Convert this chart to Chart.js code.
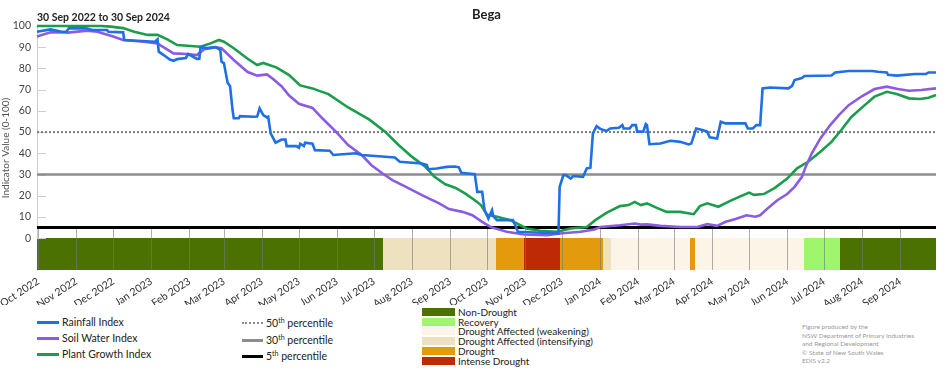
<!DOCTYPE html>
<html>
<head>
<meta charset="utf-8">
<title>Bega drought indicators</title>
<script src="https://cdn.jsdelivr.net/npm/chart.js@4.4.1/dist/chart.umd.min.js"></script>
<style>
  body { margin: 0; background: #fff; font-family: Lato, 'Noto Sans', sans-serif; color: #222; }
  #wrap { position: relative; width: 952px; height: 370px; overflow: hidden; }
  #chart { position: absolute; left: 0; top: 0; }
  .abs { position: absolute; white-space: nowrap; }
  .title { font-weight: bold; font-size: 13px; }
  .leg { font-size: 10.5px; line-height: 12px; }
  .leg sup { font-size: 7px; line-height: 0; vertical-align: 4px; }
  .sample { position: absolute; height: 0; }
  .swatch { position: absolute; width: 33px; height: 8px; }
  .credit { font-size: 6.5px; line-height: 8.5px; color: #999; }
</style>
</head>
<body>
<div id="wrap">
  <canvas id="chart" width="952" height="305"></canvas>
  <div class="abs title" style="left:0;width:973px;text-align:center;top:6px">Bega</div>
  <div class="abs title" style="left:37px;top:11px;font-size:10.5px">30 Sep 2022 to 30 Sep 2024</div>
  <div id="legend"></div>
</div>
<script>
// days counted from 30 Sep 2022
const tickLabels = ['Oct 2022', 'Nov 2022', 'Dec 2022', 'Jan 2023', 'Feb 2023', 'Mar 2023', 'Apr 2023',
  'May 2023', 'Jun 2023', 'Jul 2023', 'Aug 2023', 'Sep 2023', 'Oct 2023', 'Nov 2023', 'Dec 2023',
  'Jan 2024', 'Feb 2024', 'Mar 2024', 'Apr 2024', 'May 2024', 'Jun 2024', 'Jul 2024', 'Aug 2024', 'Sep 2024']
const yTicks = [0, 10, 20, 30, 40, 50, 60, 70, 80, 90, 100]

const rainDays = [0, 11, 20, 24, 26, 40, 45, 57, 58, 70, 71, 96, 98, 99, 103, 108, 111, 114, 121, 123, 127, 130, 132, 133,
  138, 145, 149, 150, 152, 155, 157, 159, 160, 164, 165, 176, 179, 181, 184, 187, 188, 190, 194, 199, 202, 203,
  211, 213, 214, 217, 218, 224, 226, 238, 241, 259, 264, 275, 291, 295, 313, 317, 318, 325, 333, 340, 343, 345,
  356, 358, 362, 363, 364, 367, 370, 371, 374, 387, 390, 391, 424, 425, 428, 430, 434, 436, 444, 447, 450, 452,
  455, 458, 463, 466, 473, 476, 477, 482, 484, 487, 488, 493, 495, 496, 498, 507, 515, 523, 530, 532, 536, 541,
  545, 547, 553, 556, 560, 576, 578, 582, 585, 588, 590, 596, 611, 614, 616, 622, 624, 646, 649, 660, 679, 684,
  691, 692, 699, 714, 723, 725, 731]
const rainfall = [97.3, 98.4, 97.3, 97.3, 99.0, 98.9, 98.1, 98.1, 97.3, 97.0, 93.4, 92.6, 93.7, 87.9, 86.3, 84.2, 83.6,
  84.4, 84.9, 86.8, 85.5, 84.5, 84.6, 90.1, 89.6, 90.1, 88.8, 83.2, 82.4, 73.3, 71.6, 60.4, 56.5, 56.5, 57.5,
  57.2, 57.3, 61.2, 58.0, 56.9, 57.2, 49.4, 45.0, 46.5, 46.5, 43.4, 43.4, 42.6, 44.5, 43.4, 45.0, 44.5, 41.5,
  41.2, 39.2, 40.0, 39.2, 38.7, 38.0, 36.0, 35.2, 34.5, 32.5, 32.8, 33.6, 33.8, 33.4, 30.8, 30.2, 21.8, 21.8,
  17.1, 13.2, 9.3, 13.2, 10.4, 8.5, 8.5, 4.6, 3.0, 2.2, 24.2, 29.7, 29.7, 28.1, 29.3, 28.9, 32.9, 33.2, 49.4,
  52.8, 51.5, 50.5, 51.7, 52.0, 53.3, 51.7, 51.7, 53.3, 53.3, 50.2, 50.2, 53.8, 53.3, 44.3, 44.6, 45.9, 45.4,
  44.2, 44.6, 51.7, 51.0, 50.2, 47.5, 47.0, 54.9, 54.1, 54.1, 51.7, 51.7, 53.3, 53.3, 70.6, 71.0, 70.6, 71.8,
  74.5, 75.5, 76.4, 76.7, 78.1, 78.8, 78.8, 78.4, 78.1, 77.0, 76.6, 77.4, 77.4, 78.1, 78.1]

const soilDays = [0, 11, 22, 25, 41, 49, 62, 70, 87, 98, 111, 122, 130, 136, 146, 150, 160, 171, 179, 187, 192, 199,
  205, 213, 224, 232, 243, 253, 264, 272, 281, 289, 300, 313, 327, 335, 346, 354, 362, 369, 382, 396, 415, 425,
  442, 453, 458, 474, 486, 491, 496, 507, 523, 537, 545, 553, 560, 568, 577, 584, 588, 595, 602, 610, 616, 622,
  625, 630, 637, 645, 652, 660, 671, 681, 691, 700, 709, 719, 731]
const soilWater = [95, 97, 97, 96.9, 97.8, 97.3, 95, 93.4, 92.6, 91.8, 87.1, 86.8, 86.3, 89, 90, 89.5, 84, 78.4, 76.6,
  77.2, 75, 71.5, 67.2, 63.3, 61.4, 56.5, 50.2, 43.9, 39.2, 34.4, 30.5, 27.4, 24.2, 20.3, 16.4, 13.7, 12.4, 10.8,
  7.7, 5.2, 3, 1.7, 1.4, 2.2, 3, 4.1, 5.3, 6.1, 6.9, 6.4, 6.5, 5.8, 5.3, 5.3, 6.6, 5.8, 7.7, 9, 10.8, 10.1, 10.8,
  14.5, 17.9, 20.8, 24.2, 28.9, 33.6, 40, 47, 53.3, 58, 62.7, 67, 70.3, 71.4, 70.3, 69.5, 69.8, 70.6]

const plantDays = [0, 52, 60, 70, 79, 90, 98, 106, 114, 125, 133, 141, 148, 152, 160, 171, 179, 184, 195, 205, 214,
  224, 230, 237, 253, 270, 283, 294, 305, 316, 323, 332, 340, 348, 356, 361, 366, 374, 385, 393, 398, 409, 423,
  434, 447, 454, 463, 474, 481, 486, 491, 496, 504, 512, 523, 534, 539, 545, 554, 562, 570, 579, 583, 591, 600,
  610, 618, 627, 637, 646, 654, 662, 673, 681, 691, 699, 709, 718, 725, 731]
const plantGrowth = [100, 100, 99.7, 99, 97.3, 95.8, 95.8, 93.7, 91, 90.6, 90.2, 91.8, 93.4, 92.6, 89.5, 84.7, 81.6,
  82.6, 80.4, 76.9, 72, 70.6, 69.3, 67.9, 61.6, 56, 50.2, 43.9, 38.3, 33.6, 29, 25.4, 23.8, 21.1, 17.9, 15.6, 11,
  10.1, 8.5, 6.1, 4.6, 3.5, 3, 4.6, 5.3, 8.5, 11.9, 15.1, 15.6, 17.1, 15.6, 16.4, 14.3, 12.4, 12.4, 11.3, 15.1,
  16.4, 14.8, 17.1, 19.2, 21.5, 20.4, 20.8, 23.7, 28.1, 32.9, 36, 40.7, 45.4, 51, 57, 62.7, 66.7, 69, 67.9, 65.9,
  65.6, 66.2, 67.5]

const percentileValues = [50, 30, 5]

const stripStart = [0, 281, 373, 396, 425, 460, 467, 531, 535, 624, 653]
const stripEnd = [281, 373, 396, 425, 460, 467, 531, 535, 624, 653, 731]
const stripClass = ['Non-Drought', 'Drought Affected (intensifying)', 'Drought', 'Intense Drought', 'Drought',
  'Drought Affected (intensifying)', 'Drought Affected (weakening)', 'Drought', 'Drought Affected (weakening)',
  'Recovery', 'Non-Drought']

const classColours = {
  'Non-Drought': '#4b7200',
  'Recovery': '#9ff56c',
  'Drought Affected (weakening)': '#fdf4e8',
  'Drought Affected (intensifying)': '#ede1c0',
  'Drought': '#e39a0c',
  'Intense Drought': '#bf2a06',
}
const seriesColours = ['#1f6fe5', '#8a5ce3', '#1b9d4c']
const FONT = 'Lato, "Noto Sans", sans-serif'

const monthDays = tickLabels.map((_, i) => {
  const d = new Date(Date.UTC(2022, 9 + i, 1))
  return Math.round((d - Date.UTC(2022, 8, 30)) / 86400000)
})
const toPoints = (days, vals) => days.map((d, i) => ({ x: d, y: vals[i] }))
const flat = v => [{ x: 0, y: v }, { x: 731, y: v }]

const stripPlugin = {
  id: 'strip',
  beforeDatasetsDraw(chart) {
    const { ctx, scales: { x, y }, chartArea } = chart
    const top = Math.round(y.getPixelForValue(0))
    const bottom = Math.round(y.getPixelForValue(-15))
    ctx.save()
    stripStart.forEach((s, i) => {
      const x0 = Math.round(x.getPixelForValue(s))
      const x1 = Math.round(x.getPixelForValue(stripEnd[i]))
      ctx.fillStyle = classColours[stripClass[i]]
      ctx.fillRect(x0, top, x1 - x0, bottom - top)
    })
    // month grid below the 5th percentile line
    ctx.strokeStyle = 'rgba(120,120,120,0.6)'
    ctx.lineWidth = 1
    const y5 = y.getPixelForValue(5)
    monthDays.forEach(d => {
      const px = Math.round(x.getPixelForValue(d)) + 0.5
      ctx.beginPath()
      ctx.moveTo(px, y5)
      ctx.lineTo(px, bottom)
      ctx.stroke()
    })
    // short inward ticks on the value axis
    ctx.strokeStyle = '#cfcfcf'
    yTicks.forEach(v => {
      const py = Math.round(y.getPixelForValue(v)) + 0.5
      ctx.beginPath()
      ctx.moveTo(chartArea.left, py)
      ctx.lineTo(chartArea.left + 9, py)
      ctx.stroke()
    })
    ctx.restore()
  },
}

const line = (label, days, vals, colour, order) => ({
  label, data: toPoints(days, vals), borderColor: colour, borderWidth: 2.6,
  pointRadius: 0, tension: 0, order, clip: 4,
})

new Chart(document.getElementById('chart'), {
  type: 'line',
  data: {
    datasets: [
      line('Rainfall Index', rainDays, rainfall, seriesColours[0], 1),
      line('Soil Water Index', soilDays, soilWater, seriesColours[1], 2),
      line('Plant Growth Index', plantDays, plantGrowth, seriesColours[2], 3),
      { label: '50th percentile', data: flat(percentileValues[0]), borderColor: '#7a7a7a', borderWidth: 2,
        borderDash: [2, 2], pointRadius: 0, order: 10 },
      { label: '30th percentile', data: flat(percentileValues[1]), borderColor: '#8c8c8c', borderWidth: 2.5,
        pointRadius: 0, order: 10 },
      { label: '5th percentile', data: flat(percentileValues[2]), borderColor: '#000', borderWidth: 3,
        pointRadius: 0, order: 10 },
    ],
  },
  options: {
    responsive: false,
    animation: false,
    layout: { padding: { top: 26, right: 16, left: 0, bottom: 0 }, autoPadding: false },
    plugins: { legend: { display: false }, tooltip: { enabled: false } },
    scales: {
      x: {
        type: 'linear', min: 0, max: 731,
        afterBuildTicks: s => { s.ticks = monthDays.map(v => ({ value: v })) },
        afterFit: s => { s.height = 35; s.paddingLeft = 0; s.paddingRight = 0 },
        grid: { display: false, drawTicks: false },
        border: { display: false },
        ticks: {
          autoSkip: false, maxRotation: 33, minRotation: 33, padding: 5, color: '#333',
          font: { size: 10.5, family: FONT },
          callback: (v, i) => tickLabels[i],
        },
      },
      y: {
        min: -15, max: 100,
        afterBuildTicks: s => { s.ticks = yTicks.map(v => ({ value: v })) },
        afterFit: s => { s.width = 37 },
        grid: { display: false, drawTicks: false },
        border: { display: true, color: '#cccccc', width: 1 },
        ticks: { padding: 6, color: '#444', font: { size: 10.5, family: FONT } },
        title: { display: true, text: 'Indicator Value (0-100)', padding: 0, color: '#555',
          font: { size: 10, family: FONT } },
      },
    },
  },
  plugins: [stripPlugin],
})

// legend below the chart
const legend = document.getElementById('legend')
const add = html => legend.insertAdjacentHTML('beforeend', html)
const seriesNames = ['Rainfall Index', 'Soil Water Index', 'Plant Growth Index']
const seriesRows = [322, 338, 354]
seriesNames.forEach((name, i) => {
  add(`<div class="sample" style="left:37px;width:22px;top:${seriesRows[i] - 1}px;border-top:3px solid ${seriesColours[i]}"></div>`)
  add(`<div class="abs leg" style="left:62px;top:${seriesRows[i] - 6}px">${name}</div>`)
})
const pctRows = [323, 340, 356]
const pctStyles = ['2.5px dotted #8a8a8a', '3px solid #8c8c8c', '3px solid #000']
percentileValues.forEach((p, i) => {
  add(`<div class="sample" style="left:242px;width:21px;top:${pctRows[i] - 1}px;border-top:${pctStyles[i]}"></div>`)
  add(`<div class="abs leg" style="left:266px;top:${pctRows[i] - 6}px">${p}<sup>th</sup> percentile</div>`)
})
const classNames = Object.keys(classColours)
classNames.forEach((name, i) => {
  const cy = 312 + i * 9.7
  add(`<div class="swatch" style="left:422px;top:${cy - 4}px;background:${classColours[name]}"></div>`)
  add(`<div class="abs leg" style="left:458px;top:${cy - 6}px;font-size:10px">${name}</div>`)
})
add(`<div class="abs credit" style="left:802px;top:323px">Figure produced by the<br>NSW Department of Primary Industries<br>and Regional Development<br>© State of New South Wales<br>EDIS v2.2</div>`)
</script>
</body>
</html>
